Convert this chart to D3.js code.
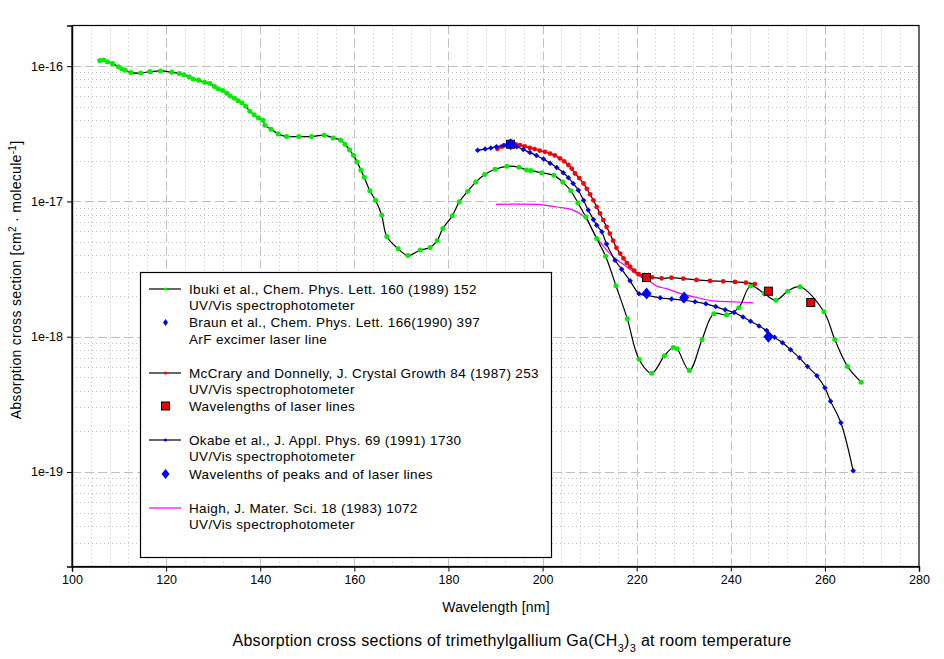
<!DOCTYPE html>
<html>
<head>
<meta charset="utf-8">
<script src="https://cdn.jsdelivr.net/npm/d3@7"></script>
<style>
  body { margin: 0; background: #fff; }
  svg { font-family: "Liberation Sans", Arial, sans-serif; }
  .tick text { font-size: 12.5px; fill: #000; }
  .leg { font-size: 13.5px; letter-spacing: 0.35px; }
</style>
</head>
<body>
<script>
// Ibuki et al. (green dots, black spline)
var ibuki = [
  [105.9,1.10e-16],[106.7,1.11e-16],[107.5,1.08e-16],[108.6,1.045e-16],[109.9,9.89e-17],
  [110.6,9.55e-17],[111.3,9.33e-17],[112.5,8.97e-17],[114.6,8.91e-17],[116.6,9.12e-17],
  [118.8,9.23e-17],[121.2,9.04e-17],[122.8,8.83e-17],[123.8,8.63e-17],[124.9,8.34e-17],
  [125.7,8.05e-17],[126.9,7.89e-17],[128.2,7.62e-17],[129.3,7.45e-17],[130.3,7.08e-17],
  [131.1,6.79e-17],[132.0,6.61e-17],[132.9,6.31e-17],[133.6,6.03e-17],[134.5,5.79e-17],
  [135.3,5.55e-17],[136.1,5.37e-17],[136.9,5.06e-17],[137.8,4.65e-17],[138.7,4.37e-17],
  [139.6,4.15e-17],[140.6,3.98e-17],[141.0,3.66e-17],[142.3,3.42e-17],[143.8,3.16e-17],
  [145.6,3.02e-17],[148.2,3.02e-17],[150.9,3.02e-17],[153.6,3.09e-17],[155.5,2.95e-17],
  [157.1,2.84e-17],[158.0,2.65e-17],[159.0,2.40e-17],[159.8,2.20e-17],[160.6,1.96e-17],
  [161.4,1.70e-17],[162.1,1.51e-17],[163.3,1.20e-17],[164.5,1.02e-17],[165.8,7.94e-18],
  [166.9,5.50e-18],[169.3,4.47e-18],[171.4,3.98e-18],[174.0,4.37e-18],[176.1,4.57e-18],
  [177.6,5.13e-18],[178.8,6.31e-18],[180.8,7.83e-18],[182.3,9.93e-18],[184.1,1.19e-17],
  [185.8,1.39e-17],[187.7,1.58e-17],[189.9,1.73e-17],[192.4,1.82e-17],[195.0,1.79e-17],
  [196.6,1.71e-17],[197.5,1.69e-17],[199.8,1.63e-17],[202.4,1.56e-17],[204.3,1.39e-17],
  [206.0,1.20e-17],[207.5,9.77e-18],[209.2,7.69e-18],[211.5,5.32e-18],[213.4,3.94e-18],
  [215.6,2.38e-18],[218.0,1.36e-18],[220.5,6.82e-19],[223.2,5.37e-19],[225.9,7.24e-19],
  [227.8,8.32e-19],[228.6,8.13e-19],[231.2,5.62e-19],[233.9,9.55e-19],[236.4,1.48e-18],
  [239.1,1.45e-18],[241.7,1.64e-18],[244.2,2.37e-18],[247.1,2.09e-18],[249.6,1.86e-18],
  [252.1,2.17e-18],[254.7,2.34e-18],[259.8,1.53e-18],[262.1,9.55e-19],[264.8,6.03e-19],
  [267.7,4.61e-19]
];

// Braun et al., ArF laser line
var braun = [[193.2,2.65e-17]];

// McCrary and Donnelly (red dots, black line)
var mccrary = [
  [190.4,2.45e-17],[191.3,2.54e-17],[192.0,2.60e-17],[192.8,2.64e-17],[193.5,2.67e-17],
  [194.3,2.64e-17],[195.2,2.61e-17],[196.2,2.55e-17],[197.3,2.49e-17],[198.3,2.44e-17],
  [199.4,2.38e-17],[200.5,2.33e-17],[201.6,2.26e-17],[202.6,2.19e-17],[203.7,2.08e-17],
  [204.6,1.98e-17],[205.5,1.86e-17],[206.2,1.75e-17],[206.9,1.61e-17],[207.8,1.49e-17],
  [208.7,1.36e-17],[209.4,1.24e-17],[210.1,1.13e-17],[210.8,1.02e-17],[211.5,9.12e-18],
  [212.2,8.15e-18],[212.9,7.28e-18],[213.6,6.49e-18],[214.3,5.79e-18],[215.0,5.13e-18],
  [215.7,4.54e-18],[216.5,4.12e-18],[217.2,3.80e-18],[217.9,3.51e-18],[218.6,3.29e-18],
  [219.5,3.08e-18],[220.4,2.90e-18],[221.3,2.81e-18],[222.1,2.74e-18],[223.3,2.75e-18],
  [225.3,2.70e-18],[227.4,2.73e-18],[229.9,2.69e-18],[232.7,2.63e-18],[235.6,2.59e-18],
  [238.4,2.57e-18],[240.9,2.54e-18],[243.2,2.51e-18],[245.1,2.45e-18]
];
var mccraryLaser = [[193.2,2.65e-17],[222.1,2.74e-18],[248.0,2.17e-18],[257.0,1.79e-18]];

// Okabe et al. (blue dots, black line)
var okabe = [
  [186.2,2.39e-17],[187.8,2.44e-17],[189.0,2.48e-17],[190.2,2.54e-17],[191.7,2.59e-17],
  [193.1,2.63e-17],[194.5,2.54e-17],[195.9,2.42e-17],[197.3,2.30e-17],[198.7,2.19e-17],
  [200.2,2.06e-17],[201.6,1.92e-17],[203.0,1.78e-17],[204.4,1.63e-17],[205.5,1.50e-17],
  [206.5,1.36e-17],[207.6,1.21e-17],[208.7,1.02e-17],[209.7,8.63e-18],[210.8,7.36e-18],
  [211.5,6.68e-18],[212.6,5.96e-18],[213.6,4.84e-18],[215.4,3.68e-18],[216.8,3.16e-18],
  [218.6,2.59e-18],[220.5,2.08e-18],[222.2,2.02e-18],[225.0,1.94e-18],[227.4,1.90e-18],
  [229.9,1.86e-18],[232.4,1.81e-18],[234.7,1.75e-18],[236.8,1.67e-18],[238.8,1.58e-18],
  [240.7,1.51e-18],[242.6,1.40e-18],[244.2,1.30e-18],[246.0,1.20e-18],[247.6,1.11e-18],
  [249.3,9.89e-19],[251.0,9.02e-19],[252.7,8.02e-19],[254.6,6.98e-19],[256.3,6.03e-19],
  [258.3,5.14e-19],[260.0,4.19e-19],[261.2,3.34e-19],[263.4,2.31e-19],[266.0,1.02e-19]
];
var okabePeaks = [[193.2,2.65e-17],[222.1,2.09e-18],[230.1,1.95e-18],[248.0,1.00e-18]];

// Haigh (magenta line)
var haigh = [
  [190.1,9.51e-18],[199.3,9.51e-18],[201.9,9.23e-18],[204.4,8.97e-18],[206.2,8.71e-18],
  [207.9,8.15e-18],[209.4,7.36e-18],[210.4,6.31e-18],[211.5,5.42e-18],[212.9,4.68e-18],
  [214.3,4.12e-18],[215.7,3.72e-18],[217.9,3.29e-18],[220.0,2.90e-18],[222.8,2.57e-18],
  [224.2,2.37e-18],[226.4,2.26e-18],[229.2,2.09e-18],[232.7,1.95e-18],[236.3,1.84e-18],
  [240.5,1.81e-18],[244.8,1.78e-18]
];

var xTicks = [100,120,140,160,180,200,220,240,260,280];
var yTicks = [1e-16,1e-17,1e-18,1e-19];

var W = 944, H = 659;
var L = 72, R = 919, T = 25.5, B = 566.5;

var svg = d3.select("body").append("svg").attr("width", W).attr("height", H);

var x = d3.scaleLinear().domain([100,280]).range([L,R]);
var y = d3.scaleLog().domain([2e-20,2e-16]).range([B,T]);

// grid
var grid = svg.append("g");
var minorX = d3.range(104,280,4).filter(v => v % 20 != 0);
var minorY = [];
[-20,-19,-18,-17,-16].forEach(function(e){
  for (var m = 2; m <= 9; m++) {
    var v = m * Math.pow(10, e);
    if (v > 2e-20 && v < 2e-16) minorY.push(v);
  }
});
grid.selectAll(".mx").data(minorX).enter().append("line")
  .attr("x1", d => Math.round(x(d)) + .5).attr("x2", d => Math.round(x(d)) + .5).attr("y1", T).attr("y2", B)
  .attr("stroke", "#bdbdbd").attr("stroke-dasharray", "1,3");
grid.selectAll(".my").data(minorY).enter().append("line")
  .attr("x1", L).attr("x2", R).attr("y1", d => Math.round(y(d)) + .5).attr("y2", d => Math.round(y(d)) + .5)
  .attr("stroke", "#bdbdbd").attr("stroke-dasharray", "1,3");
grid.selectAll(".Mx").data(xTicks.slice(1,-1)).enter().append("line")
  .attr("x1", d => Math.round(x(d)) + .5).attr("x2", d => Math.round(x(d)) + .5).attr("y1", T).attr("y2", B)
  .attr("stroke", "#c0c0c0").attr("stroke-dasharray", "9,4");
grid.selectAll(".My").data(yTicks).enter().append("line")
  .attr("x1", L).attr("x2", R).attr("y1", d => Math.round(y(d)) + .5).attr("y2", d => Math.round(y(d)) + .5)
  .attr("stroke", "#c0c0c0").attr("stroke-dasharray", "9,4");

var line = d3.line().x(d => x(d[0])).y(d => y(d[1])).curve(d3.curveCatmullRom);

// wide diamond: w x h
function diamond(w, h) {
  return "M0," + (-h/2) + "L" + (w/2) + ",0L0," + (h/2) + "L" + (-w/2) + ",0Z";
}

function curve(data, color) {
  svg.append("path").datum(data).attr("d", line)
    .attr("fill", "none").attr("stroke", color).attr("stroke-width", 1.2);
}
function dots(data, shape, color) {
  svg.append("g").selectAll("path").data(data).enter().append("path")
    .attr("transform", d => "translate(" + x(d[0]) + "," + y(d[1]) + ")")
    .attr("d", shape)
    .attr("fill", color);
}

curve(haigh, "#ff00ff");
curve(ibuki, "#000");
dots(ibuki, d3.symbol().type(d3.symbolCircle).size(20)(), "#00ee00");
curve(mccrary, "#000");
dots(mccrary, d3.symbol().type(d3.symbolCircle).size(18)(), "#ff0000");
curve(okabe, "#000");
dots(okabe, diamond(5.5, 5.5), "#0000ff");

// laser lines (red squares)
svg.append("g").selectAll("rect").data(mccraryLaser).enter().append("rect")
  .attr("x", d => x(d[0]) - 4).attr("y", d => y(d[1]) - 4)
  .attr("width", 8).attr("height", 8)
  .attr("fill", "#ee0000").attr("stroke", "#000").attr("stroke-width", 1);
dots(okabePeaks, diamond(10, 12), "#0000ff");
dots(braun, diamond(6, 8), "#0000ff");

// frame and axes
svg.append("rect").attr("x", L).attr("y", T).attr("width", R - L).attr("height", B - T)
  .attr("fill", "none").attr("stroke", "#000").attr("stroke-width", 1.2);

var xAxis = svg.append("g").attr("transform", "translate(0," + B + ")")
  .call(d3.axisBottom(x).tickValues(xTicks).tickSize(5).tickPadding(4).tickFormat(d3.format("d")));
var yAxis = svg.append("g").attr("transform", "translate(" + L + ",0)")
  .call(d3.axisLeft(y).tickValues(yTicks).tickSize(5).tickPadding(4)
    .tickFormat(d => "1e" + Math.round(Math.log10(d))));
[xAxis, yAxis].forEach(function(a){
  a.select(".domain").attr("stroke-width", 1.4);
  a.selectAll(".tick line").attr("stroke", "#000");
});

// axis titles
svg.append("text").attr("x", 496).attr("y", 612).attr("text-anchor", "middle")
  .style("font-size", "14px").style("letter-spacing", "0.2px").text("Wavelength [nm]");

var yl = svg.append("text").attr("transform", "translate(21,280) rotate(-90)")
  .attr("text-anchor", "middle").style("font-size", "14px").style("letter-spacing", "0.3px");
yl.append("tspan").text("Absorption cross section [cm");
yl.append("tspan").attr("baseline-shift", "super").style("font-size", "10px").text("2");
yl.append("tspan").text(" \u00b7 molecule");
yl.append("tspan").attr("baseline-shift", "super").style("font-size", "10px").text("-1");
yl.append("tspan").text("]");

var tt = svg.append("text").attr("x", 512).attr("y", 646).attr("text-anchor", "middle")
  .style("font-size", "16px").style("letter-spacing", "0.3px");
tt.append("tspan").text("Absorption cross sections of trimethylgallium Ga(CH");
tt.append("tspan").attr("baseline-shift", "sub").style("font-size", "11px").text("3");
tt.append("tspan").text(")");
tt.append("tspan").attr("baseline-shift", "sub").style("font-size", "11px").text("3");
tt.append("tspan").text(" at room temperature");

// legend
var legendRows = [
  {y: 289, text: "Ibuki et al.,  Chem. Phys. Lett. 160 (1989) 152", sym: "line", line: "#000", dot: "#00ee00"},
  {y: 305, text: "UV/Vis spectrophotometer"},
  {y: 322.5, text: "Braun et al., Chem. Phys. Lett. 166(1990) 397", sym: "diamond", dot: "#0000ff", w: 5, h: 7},
  {y: 339, text: "ArF excimer laser line"},
  {y: 373, text: "McCrary and Donnelly, J. Crystal Growth 84 (1987) 253", sym: "line", line: "#000", dot: "#ff0000"},
  {y: 389, text: "UV/Vis spectrophotometer"},
  {y: 406, text: "Wavelengths of laser lines", sym: "square"},
  {y: 440, text: "Okabe et al., J. Appl. Phys. 69 (1991) 1730", sym: "line", line: "#000", dot: "#0000ff"},
  {y: 456, text: "UV/Vis spectrophotometer"},
  {y: 474, text: "Wavelenths of peaks and of laser lines", sym: "diamond", dot: "#0000ff", w: 8, h: 10},
  {y: 508, text: "Haigh, J. Mater. Sci. 18 (1983) 1072", sym: "line", line: "#ff00ff"},
  {y: 524, text: "UV/Vis spectrophotometer"}
];
var lg = svg.append("g");
lg.append("rect").attr("x", 140.5).attr("y", 272.5).attr("width", 411).attr("height", 285)
  .attr("fill", "#fff").attr("stroke", "#000").attr("stroke-width", 1.2);
legendRows.forEach(function(r){
  lg.append("text").attr("class", "leg").attr("x", 189).attr("y", r.y).attr("dy", "0.36em").text(r.text);
  if (r.sym == "line") {
    lg.append("line").attr("x1", 149).attr("x2", 181).attr("y1", r.y).attr("y2", r.y)
      .attr("stroke", r.line).attr("stroke-width", 1.2);
    if (r.dot) lg.append("circle").attr("cx", 165.5).attr("cy", r.y).attr("r", 1.6).attr("fill", r.dot);
  } else if (r.sym == "diamond") {
    lg.append("path").attr("transform", "translate(165.5," + r.y + ")")
      .attr("d", diamond(r.w, r.h)).attr("fill", r.dot);
  } else if (r.sym == "square") {
    lg.append("rect").attr("x", 161.5).attr("y", r.y - 4).attr("width", 8).attr("height", 8)
      .attr("fill", "#ee0000").attr("stroke", "#000");
  }
});
</script>
</body>
</html>
